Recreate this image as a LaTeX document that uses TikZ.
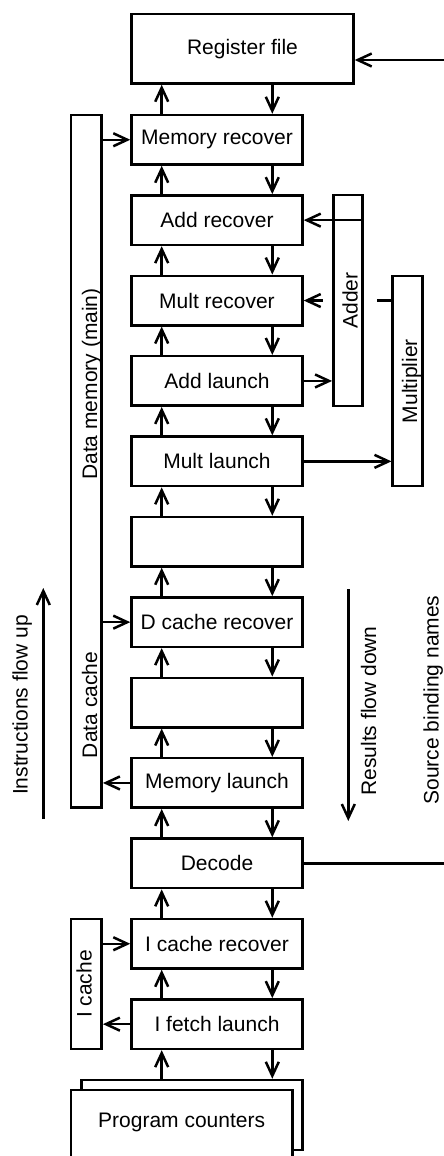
\documentclass[tikz,border=0pt]{standalone}
\usepackage{fontspec}
\setmainfont{Liberation Sans}
\usetikzlibrary{arrows.meta}
\begin{document}
\begin{tikzpicture}[x=1pt,y=-1pt,
  box/.style={draw, line width=2.5pt, inner sep=0pt, font=\fontsize{21pt}{25pt}\selectfont},
  stage/.style={box, minimum width=171pt, minimum height=49.5pt},
  lbl/.style={font=\fontsize{21pt}{25pt}\selectfont, inner sep=0pt},
  arr/.style={line width=2.5pt, -{Straight Barb[length=14pt,width=13pt]}},
  ln/.style={line width=2.5pt}]
\useasboundingbox (0,0) rectangle (444,1156);
\coordinate (upx) at (161.7,0);
\coordinate (dnx) at (272.3,0);
\coordinate (edge) at (444,0);

% main column
\node[box, minimum width=222pt, minimum height=69.5pt] (rf) at (242.5,48.75) {Register file};
\node[stage] (s0) at (217,139.75) {Memory recover};
\node[stage] (s1) at (217,220.15) {Add recover};
\node[stage] (s2) at (217,300.55) {Mult recover};
\node[stage] (s3) at (217,380.95) {Add launch};
\node[stage] (s4) at (217,461.35) {Mult launch};
\node[stage] (s5) at (217,541.75) {};
\node[stage] (s6) at (217,622.15) {D cache recover};
\node[stage] (s7) at (217,702.55) {};
\node[stage] (s8) at (217,782.95) {Memory launch};
\node[stage] (s9) at (217,863.35) {Decode};
\node[stage] (s10) at (217,943.75) {I cache recover};
\node[stage] (s11) at (217,1024.15) {I fetch launch};

% program counters
\node[box, minimum width=220.6pt, minimum height=70pt] (pcb) at (192,1115) {};
\node[box, fill=white, minimum width=221.3pt, minimum height=70pt, text depth=10pt] (pcf) at (181.65,1125) {Program counters};

% side units (rotated: node north = page left, node south = page right)
\node[box, minimum width=30.7pt, minimum height=692.7pt] (dm) at (86.35,461.35) {};
\node[lbl, rotate=90, anchor=base] (dmt1) at (97,384) {Data memory (main)};
\node[lbl, rotate=90, anchor=base] (dmt2) at (97,705) {Data cache};
\node[box, rotate=90, minimum width=130pt, minimum height=30.7pt, text height=15pt, text depth=4.5pt] (ic) at (86.35,984) {I cache};
\node[box, rotate=90, minimum width=210pt, minimum height=30pt, text height=19pt, text depth=0pt] (mul) at (407.7,381) {Multiplier};

% multiplier -> mult recover, passing behind the adder
\draw[arr] (mul.north |- s2.east) -- (s2.east);
\fill[white] (323,292) rectangle (377,309);
\node[box, rotate=90, minimum width=211pt, minimum height=29.4pt, text height=19pt, text depth=0pt] (adder) at (348,300.5) {Adder};

% stage-to-stage arrows
\foreach \a/\b in {rf/s0,s0/s1,s1/s2,s2/s3,s3/s4,s4/s5,s5/s6,s6/s7,s7/s8,s8/s9,s9/s10,s10/s11,s11/pcb}{
  \draw[arr] (\b.north -| upx) -- (\a.south -| upx);
  \draw[arr] (\a.south -| dnx) -- (\b.north -| dnx);
}

% side connections
\coordinate (rfin) at (444,60);
\draw[arr] (rfin) -- (rfin -| rf.east);
\draw[arr] (dm.east |- s0.west) -- (s0.west);
\draw[arr] (dm.east |- s6.west) -- (s6.west);
\draw[arr] (s8.west) -- (s8.west -| dm.east);
\draw[arr] (adder.south |- s1.east) -- (s1.east);
\draw[arr] (s3.east) -- (s3.east -| adder.north);
\draw[arr] (s4.east) -- (s4.east -| mul.north);
\draw[ln] (s9.east) -- (s9.east -| edge);
\draw[arr] (ic.south |- s10.west) -- (s10.west);
\draw[arr] (s11.west) -- (s11.west -| ic.south);

% flow arrows and labels
\coordinate (iub) at (43.3,819);
\coordinate (iut) at (43.3,588);
\draw[arr] (iub) -- (iut);
\node[lbl, rotate=90, anchor=base] (iutxt) at (27.5,705) {Instructions flow up};
\coordinate (rdt) at (348.3,589);
\coordinate (rdb) at (348.3,821);
\draw[arr] (rdt) -- (rdb);
\node[lbl, rotate=90, anchor=base] (rdtxt) at (376,711) {Results flow down};
\node[lbl, rotate=90, anchor=base] (sbn) at (438.5,700) {Source binding names};
\end{tikzpicture}
\end{document}
